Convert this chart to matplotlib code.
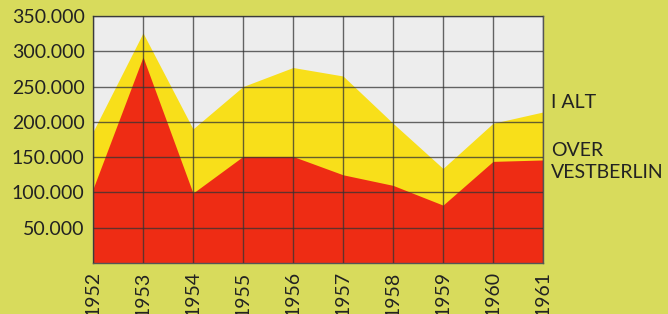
import numpy as np
import matplotlib.pyplot as plt

plt.rcParams['font.family'] = 'Lato'

# Data
years = [1952, 1953, 1954, 1955, 1956, 1957, 1958, 1959, 1960, 1961]
i_alt = [186000, 326000, 190000, 250000, 277000, 265000, 198000, 134000, 198000, 214000]
over_vestberlin = [105000, 292000, 99000, 151000, 151000, 125000, 110000, 82000, 144000, 146000]
ytick_vals = [50000, 100000, 150000, 200000, 250000, 300000, 350000]
ytick_labels = ['50.000', '100.000', '150.000', '200.000', '250.000', '300.000', '350.000']

bg = '#d8db5c'
fig = plt.figure(figsize=(6.68, 3.14), dpi=100, facecolor=bg)
ax = fig.add_axes([93/668, 1 - 263/314, 450/668, 247/314])
ax.set_facecolor('#ededed')

ax.fill_between(years, 0, i_alt, color='#f8df1a', lw=0, zorder=1)
ax.fill_between(years, 0, over_vestberlin, color='#ee2c14', lw=0, zorder=2)

ax.set_xlim(years[0], years[-1])
ax.set_ylim(0, 350000)
ax.set_xticks(years)
ax.set_xticklabels([str(y) for y in years], rotation=90, fontsize=14)
ax.set_yticks(ytick_vals)
ax.set_yticklabels(ytick_labels, fontsize=14)
ax.tick_params(length=0, pad=6, colors='#222222')
ax.grid(True, color='#333333', lw=1, alpha=0.75, zorder=3)
ax.set_axisbelow(False)
for s in ax.spines.values():
    s.set_color('#555555')
    s.set_linewidth(1)

fig.text(551/668, 1 - 103/314, 'I ALT', fontsize=14, va='center', ha='left', color='#222222')
fig.text(551/668, 1 - 150/314, 'OVER', fontsize=14, va='center', ha='left', color='#222222')
fig.text(551/668, 1 - 172/314, 'VESTBERLIN', fontsize=14, va='center', ha='left', color='#222222')

fig.savefig('out.png', dpi=100, facecolor=bg)
